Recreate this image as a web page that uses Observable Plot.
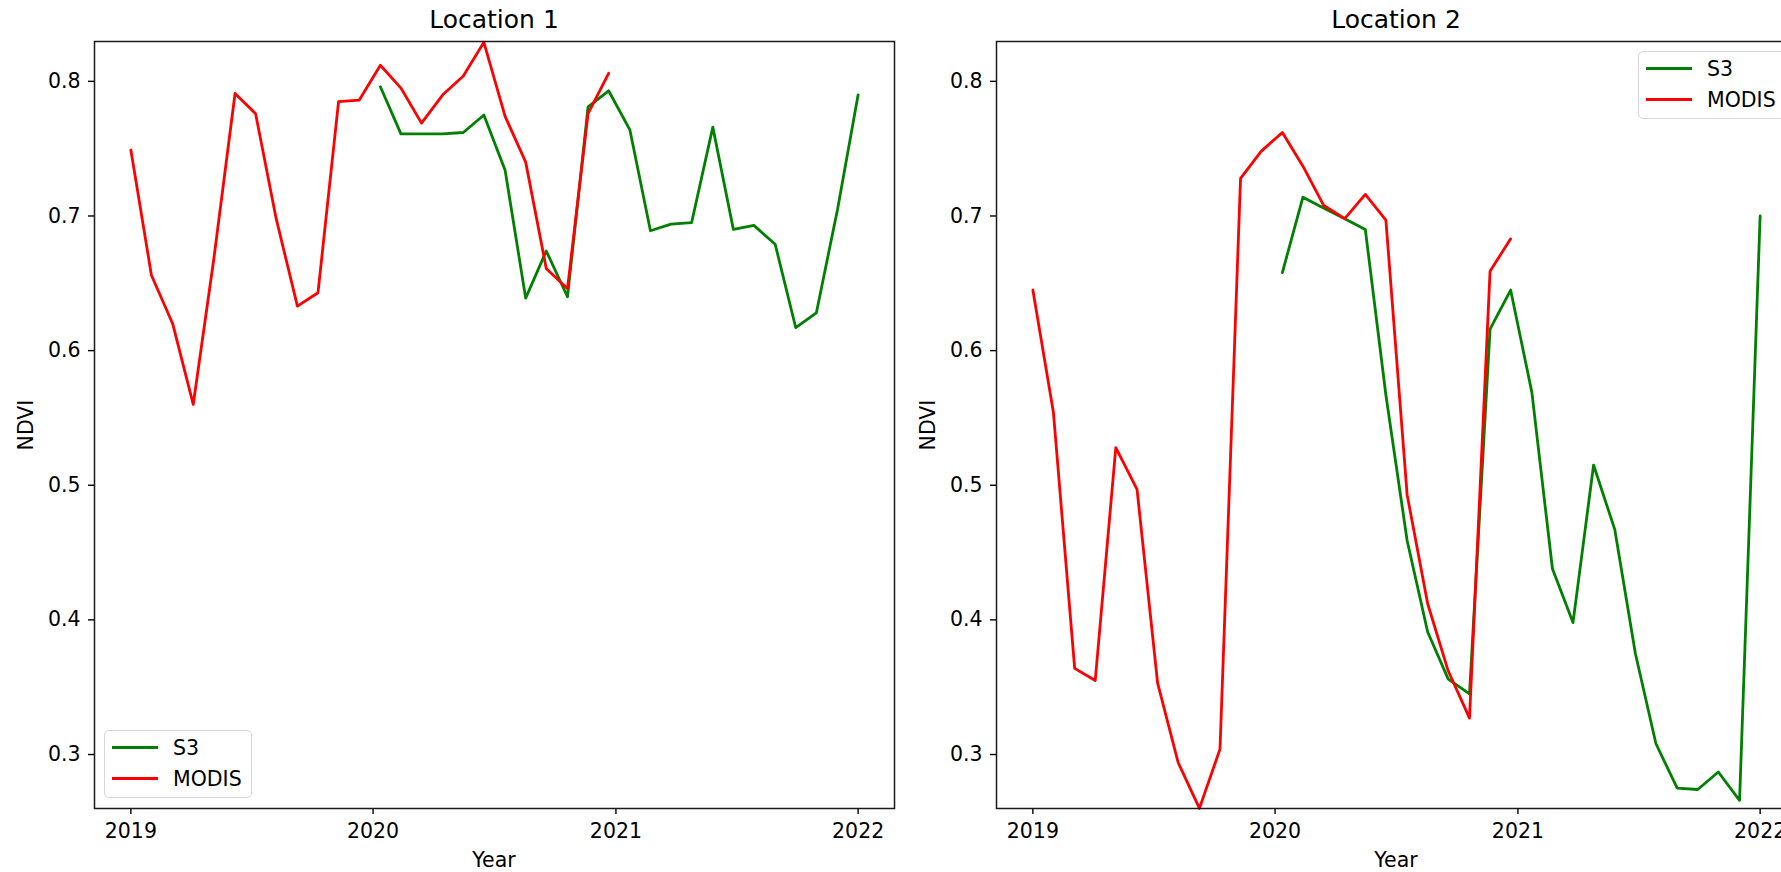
<!DOCTYPE html>
<html>
<head>
<meta charset="utf-8">
<script src="https://cdn.jsdelivr.net/npm/d3@7"></script>
<script src="https://cdn.jsdelivr.net/npm/@observablehq/plot@0.6"></script>
<style>
  html, body { margin: 0; padding: 0; background: #fff; }
  #root { position: relative; width: 1781px; height: 872px; overflow: hidden; background: #fff;
          font-family: "DejaVu Sans", sans-serif; color: #000; }
  .abs { position: absolute; white-space: nowrap; line-height: 1; }
  .panel { position: absolute; top: 0; width: 940px; height: 872px; }
  .panel svg { max-width: none !important; width: 940px; height: 872px; display: block; }
  .title { font-size: 25px; transform: translateX(-50%); }
  .xlabel { font-size: 20.5px; transform: translateX(-50%); }
  .ylabel { font-size: 20.5px; transform: translate(-50%, -50%) rotate(-90deg); }
  .legend { position: absolute; width: 148px; height: 68px; box-sizing: border-box;
            border: 1.2px solid #d6d6d6; border-radius: 5px; background: rgba(255,255,255,0.8); }
  .sw { position: absolute; left: 7px; width: 46px; height: 3px; }
  .lt { position: absolute; left: 68px; font-size: 20.5px; line-height: 1; }
</style>
</head>
<body>
<div id="root"></div>
<script>
// ---- data ----
const dates = [
  "2019-01-01","2019-02-01","2019-03-05","2019-04-05","2019-05-06","2019-06-07",
  "2019-07-08","2019-08-08","2019-09-09","2019-10-10","2019-11-10","2019-12-11",
  "2020-01-12","2020-02-12","2020-03-14","2020-04-15","2020-05-16","2020-06-16",
  "2020-07-18","2020-08-18","2020-09-18","2020-10-20","2020-11-20","2020-12-21",
  "2021-01-22","2021-02-22","2021-03-25","2021-04-25","2021-05-27","2021-06-27",
  "2021-07-28","2021-08-29","2021-09-29","2021-10-30","2021-12-01","2022-01-01"
];
const modisDates = dates.slice(0, 24);
const s3Dates = dates.slice(12, 36);

const modisLoc1 = [0.749, 0.656, 0.620, 0.560, 0.668, 0.791, 0.776, 0.698, 0.633, 0.643, 0.785, 0.786,
                   0.812, 0.795, 0.769, 0.790, 0.804, 0.829, 0.774, 0.740, 0.661, 0.646, 0.776, 0.806];
const s3Loc1 =    [0.796, 0.761, 0.761, 0.761, 0.762, 0.775, 0.734, 0.639, 0.674, 0.640, 0.781, 0.793,
                   0.764, 0.689, 0.694, 0.695, 0.766, 0.690, 0.693, 0.679, 0.617, 0.628, 0.705, 0.790];
const modisLoc2 = [0.645, 0.554, 0.364, 0.355, 0.528, 0.497, 0.353, 0.294, 0.260, 0.304, 0.728, 0.748,
                   0.762, 0.737, 0.708, 0.698, 0.716, 0.697, 0.493, 0.412, 0.362, 0.327, 0.659, 0.683];
const s3Loc2 =    [0.658, 0.714, 0.706, 0.698, 0.690, 0.567, 0.459, 0.391, 0.356, 0.345, 0.616, 0.645,
                   0.569, 0.438, 0.398, 0.515, 0.467, 0.375, 0.308, 0.275, 0.274, 0.287, 0.266, 0.700];

const panelTitles = ["Location 1", "Location 2"];
const seriesNames = ["S3", "MODIS"];
const seriesColors = ["#008000", "#ff0000"];
const yearTicks = ["2019-01-01", "2020-01-01", "2021-01-01", "2022-01-01"];
const ndviTicks = [0.3, 0.4, 0.5, 0.6, 0.7, 0.8];
const xLabel = "Year";
const yLabel = "NDVI";

// ---- build ----
const t0 = new Date(dates[0]).getTime(), t1 = new Date(dates[dates.length - 1]).getTime();
const pad = (t1 - t0) * 0.05;
const xDomain = [new Date(t0 - pad), new Date(t1 + pad)];
const yDomain = [0.2599, 0.8296];

function rows(ds, vs) { return ds.map((d, i) => ({date: new Date(d), v: vs[i]})); }

function makePlot(s3, modis) {
  return Plot.plot({
    width: 940, height: 872,
    marginLeft: 94, marginRight: 46, marginTop: 41, marginBottom: 64,
    style: {fontFamily: "DejaVu Sans", fontSize: "20.5px", background: "transparent", color: "#000", overflow: "visible", maxWidth: "none"},
    x: {type: "utc", domain: xDomain, ticks: yearTicks.map(d => new Date(d)), tickFormat: "%Y",
        tickSize: 6, tickPadding: 9, label: null},
    y: {domain: yDomain, ticks: ndviTicks, tickFormat: ".1f", tickSize: 6, tickPadding: 8, label: null},
    marks: [
      Plot.line(rows(s3Dates, s3), {x: "date", y: "v", stroke: seriesColors[0], strokeWidth: 2.8}),
      Plot.line(rows(modisDates, modis), {x: "date", y: "v", stroke: seriesColors[1], strokeWidth: 2.8}),
      Plot.frame({stroke: "#1a1a1a", strokeWidth: 1.5})
    ]
  });
}

const root = document.getElementById("root");
const panels = [
  {left: 0, s3: s3Loc1, modis: modisLoc1, legend: {left: 104, top: 730}},
  {left: 902, s3: s3Loc2, modis: modisLoc2, legend: {left: 1638, top: 51}}
];

panels.forEach((p, k) => {
  const wrap = document.createElement("div");
  wrap.className = "panel";
  wrap.style.left = p.left + "px";
  const chart = makePlot(p.s3, p.modis);
  chart.style.maxWidth = "none";
  chart.querySelectorAll("g[aria-label$='tick'] path, g[aria-label$='tick'] line").forEach(e => e.setAttribute("stroke-width", 1.4));
  wrap.appendChild(chart);
  root.appendChild(wrap);

  const cx = p.left + 94 + 400;
  const t = document.createElement("div");
  t.className = "abs title"; t.textContent = panelTitles[k];
  t.style.left = cx + "px"; t.style.top = "7px";
  root.appendChild(t);

  const xl = document.createElement("div");
  xl.className = "abs xlabel"; xl.textContent = xLabel;
  xl.style.left = cx + "px"; xl.style.top = "850px";
  root.appendChild(xl);

  const yl = document.createElement("div");
  yl.className = "abs ylabel"; yl.textContent = yLabel;
  yl.style.left = (p.left + 26) + "px"; yl.style.top = "425px";
  root.appendChild(yl);

  const lg = document.createElement("div");
  lg.className = "legend";
  lg.style.left = p.legend.left + "px"; lg.style.top = p.legend.top + "px";
  seriesNames.forEach((name, j) => {
    const sw = document.createElement("div");
    sw.className = "sw"; sw.style.background = seriesColors[j];
    sw.style.top = (15.3 + j * 31) + "px";
    lg.appendChild(sw);
    const tx = document.createElement("div");
    tx.className = "lt"; tx.textContent = name;
    tx.style.top = (6.8 + j * 31) + "px";
    lg.appendChild(tx);
  });
  root.appendChild(lg);
});
</script>
</body>
</html>
